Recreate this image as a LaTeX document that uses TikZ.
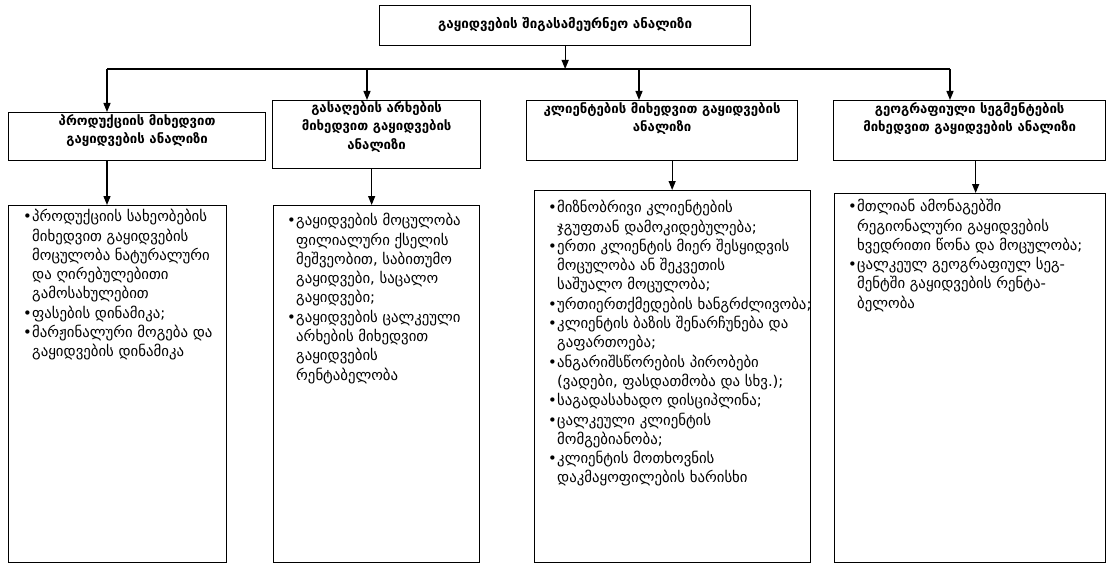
\documentclass[tikz,border=0pt]{standalone}
\usepackage{fontspec}
\setmainfont{DejaVu Sans}
\usetikzlibrary{arrows.meta}
\newcommand\bu{\makebox[9pt][l]{•}}
\begin{document}
\begin{tikzpicture}[x=1pt,y=-1pt,
  frame/.style={draw, line width=1.3pt, inner sep=0pt, anchor=north west},
  headtext/.style={anchor=north, inner sep=0pt, align=center, font=\bfseries\fontsize{13.2}{18.5}\selectfont},
  listtext/.style={anchor=north west, inner sep=0pt, font=\fontsize{14.8}{19.3}\selectfont},
  conn/.style={line width=1.3pt},
  arr/.style={line width=1.3pt, -{Triangle[length=9pt,width=7pt]}}]
\useasboundingbox (0,0) rectangle (1107,564);

% top
\node[frame, minimum width=371pt, minimum height=40pt] (top) at (379,5) {};
\node[inner sep=0pt, font=\bfseries\fontsize{13.4}{16}\selectfont] (toptext) at ([yshift=1pt]top.center) {გაყიდვების შიგასამეურნეო ანალიზი};

% header boxes
\node[frame, minimum width=257pt, minimum height=48pt] (b1) at (8,112) {};
\node[frame, minimum width=208pt, minimum height=68pt] (b2) at (272,100) {};
\node[frame, minimum width=271pt, minimum height=60pt] (b3) at (526,100) {};
\node[frame, minimum width=272pt, minimum height=60pt] (b4) at (833,100) {};

\node[headtext] (t1) at ([yshift=-2pt]b1.north) {პროდუქციის მიხედვით\\გაყიდვების ანალიზი};
\node[headtext] (t2) at ([yshift=-1pt]b2.north) {გასაღების არხების\\მიხედვით გაყიდვების\\ანალიზი};
\node[headtext] (t3) at ([yshift=-2pt]b3.north) {კლიენტების მიხედვით გაყიდვების\\ანალიზი};
\node[headtext] (t4) at ([yshift=-2pt]b4.north) {გეოგრაფიული სეგმენტების\\მიხედვით გაყიდვების ანალიზი};

% list boxes
\node[frame, minimum width=218pt, minimum height=357pt] (l1) at (8,205) {};
\node[frame, minimum width=206pt, minimum height=357pt] (l2) at (273,205) {};
\node[frame, minimum width=276pt, minimum height=372pt] (l3) at (534,190) {};
\node[frame, minimum width=271pt, minimum height=369pt] (l4) at (834,193) {};

\node[listtext] (x1) at ([xshift=15pt,yshift=-3pt]l1.north west) {%
\begin{tabular}{@{}l@{}l@{}}
\bu & პროდუქციის სახეობების\\
    & მიხედვით გაყიდვების\\
    & მოცულობა ნატურალური\\
    & და ღირებულებითი\\
    & გამოსახულებით\\
\bu & ფასების დინამიკა;\\
\bu & მარჟინალური მოგება და\\
    & გაყიდვების დინამიკა
\end{tabular}};

\node[listtext] (x2) at ([xshift=14pt,yshift=-7pt]l2.north west) {%
\begin{tabular}{@{}l@{}l@{}}
\bu & გაყიდვების მოცულობა\\
    & ფილიალური ქსელის\\
    & მეშვეობით, საბითუმო\\
    & გაყიდვები, საცალო\\
    & გაყიდვები;\\
\bu & გაყიდვების ცალკეული\\
    & არხების მიხედვით\\
    & გაყიდვების\\
    & რენტაბელობა
\end{tabular}};

\node[listtext] (x3) at ([xshift=14pt,yshift=-9pt]l3.north west) {%
\begin{tabular}{@{}l@{}l@{}}
\bu & მიზნობრივი კლიენტების\\
    & ჯგუფთან დამოკიდებულება;\\
\bu & ერთი კლიენტის მიერ შესყიდვის\\
    & მოცულობა ან შეკვეთის\\
    & საშუალო მოცულობა;\\
\bu & ურთიერთქმედების ხანგრძლივობა;\\
\bu & კლიენტის ბაზის შენარჩუნება და\\
    & გაფართოება;\\
\bu & ანგარიშსწორების პირობები\\
    & (ვადები, ფასდათმობა და სხვ.);\\
\bu & საგადასახადო დისციპლინა;\\
\bu & ცალკეული კლიენტის\\
    & მომგებიანობა;\\
\bu & კლიენტის მოთხოვნის\\
    & დაკმაყოფილების ხარისხი
\end{tabular}};

\node[listtext] (x4) at ([xshift=14pt,yshift=-5pt]l4.north west) {%
\begin{tabular}{@{}l@{}l@{}}
\bu & მთლიან ამონაგებში\\
    & რეგიონალური გაყიდვების\\
    & ხვედრითი წონა და მოცულობა;\\
\bu & ცალკეულ გეოგრაფიულ სეგ-\\
    & მენტში გაყიდვების რენტა-\\
    & ბელობა
\end{tabular}};

% connectors
\coordinate (hl) at (107,69);
\coordinate (hr) at (950,69);
\coordinate (h2) at (367,69);
\coordinate (h3) at (639,69);
\draw[conn] (hl) -- (hr);
\draw[arr] (top.south) -- (top.south |- hl);
\draw[arr] (hl) -- (hl |- b1.north);
\draw[arr] (h2) -- (h2 |- b2.north);
\draw[arr] (h3) -- (h3 |- b3.north);
\draw[arr] (hr) -- (hr |- b4.north);

\draw[arr] (b1.south -| hl) -- (l1.north -| hl);
\draw[arr] ([xshift=-5pt]b2.south) -- ([xshift=-5pt]b2.south |- l2.north);
\draw[arr] ([xshift=10pt]b3.south) -- ([xshift=10pt]b3.south |- l3.north);
\draw[arr] ([xshift=6pt]b4.south) -- ([xshift=6pt]b4.south |- l4.north);
\end{tikzpicture}
\end{document}
